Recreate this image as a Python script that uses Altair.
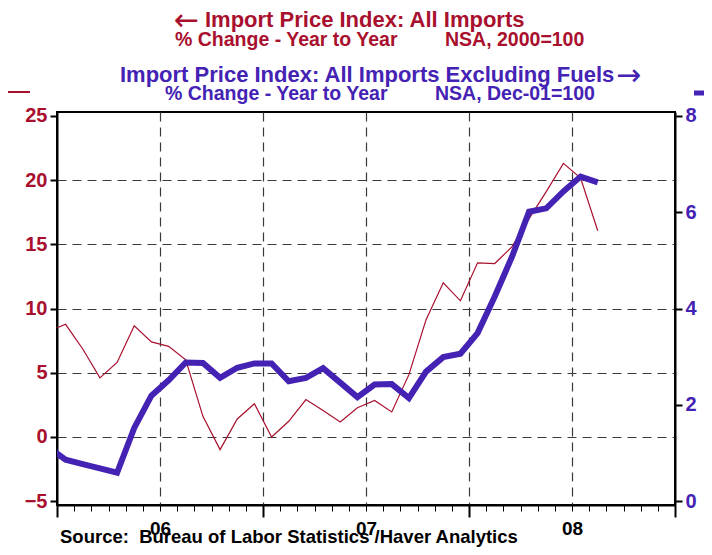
import altair as alt
import pandas as pd

# ---- data ----
months = [
    "2005-12",
    "2006-01", "2006-02", "2006-03", "2006-04", "2006-05", "2006-06",
    "2006-07", "2006-08", "2006-09", "2006-10", "2006-11", "2006-12",
    "2007-01", "2007-02", "2007-03", "2007-04", "2007-05", "2007-06",
    "2007-07", "2007-08", "2007-09", "2007-10", "2007-11", "2007-12",
    "2008-01", "2008-02", "2008-03", "2008-04", "2008-05", "2008-06",
    "2008-07", "2008-08",
]
# Import Price Index: All Imports, % change yoy (left axis)
all_imports = [
    8.2,
    8.77, 6.85, 4.6, 5.8, 8.66, 7.4,
    7.05, 6.0, 1.6, -0.99, 1.4, 2.58,
    0.0, 1.22, 2.91, 2.05, 1.17, 2.27,
    2.84, 1.95, 4.85, 9.13, 12.0, 10.6,
    13.56, 13.5, 14.8, 17.0, 19.1, 21.3,
    20.15, 16.05,
]
# Import Price Index: All Imports Excluding Fuels, % change yoy (right axis)
ex_fuels = [
    1.12,
    0.86, 0.77, 0.68, 0.59, 1.52, 2.19,
    2.51, 2.88, 2.87, 2.56, 2.77, 2.86,
    2.86, 2.49, 2.56, 2.76, 2.46, 2.16,
    2.42, 2.43, 2.14, 2.69, 2.99, 3.06,
    3.49, 4.25, 5.07, 6.01, 6.08, 6.43,
    6.74, 6.62,
]
year_labels = ["06", "07", "08"]
left_ticks = [-5, 0, 5, 10, 15, 20, 25]
right_ticks = [0, 2, 4, 6, 8]

RED = "#A8102E"
BLUE = "#4422B4"
FONT = "Liberation Sans"

start = pd.Period("2006-01", "M")
pos = [(pd.Period(m, "M") - start).n + 0.5 for m in months]
df = pd.DataFrame({"month": months, "t": pos, "all": all_imports, "exf": ex_fuels})

n_months = 12 * len(year_labels)
label_array = "[" + ",".join("'" + s + "'" for s in year_labels) + "]"
grid_test = "datum.value % 6 === 0 && datum.value > 0 && datum.value < " + str(n_months)

x_axis = alt.Axis(
    values=list(range(0, n_months + 1)),
    tickSize={"condition": {"test": "datum.value % 12 === 0", "value": 12}, "value": 6},
    tickWidth={"condition": {"test": "datum.value % 12 === 0", "value": 2}, "value": 1},
    tickColor="black",
    grid=True,
    gridOpacity={"condition": {"test": grid_test, "value": 1}, "value": 0},
    gridDash=[9, 6],
    gridColor="#3a3a3a",
    gridWidth=1.2,
    labelExpr="datum.value % 12 === 6 ? " + label_array + "[floor(datum.value / 12)] : ''",
    labelOverlap=False,
    labelFlush=False,
    labelFont=FONT,
    labelFontSize=19,
    labelFontWeight="bold",
    labelColor="black",
    labelPadding=8,
    domainColor="black",
    domainWidth=2,
    title=None,
)
x_scale = alt.Scale(domain=[0, n_months], nice=False, zero=False)

left_axis = alt.Axis(
    orient="left",
    values=left_ticks,
    tickSize=7,
    tickWidth=2,
    tickColor="black",
    grid=True,
    gridOpacity={"condition": {"test": "datum.value > -5 && datum.value < 25", "value": 1}, "value": 0},
    gridDash=[9, 6],
    gridColor="#3a3a3a",
    gridWidth=1.2,
    labelFont=FONT,
    labelFontSize=20,
    labelFontWeight="bold",
    labelColor=RED,
    labelPadding=3,
    domainColor="black",
    domainWidth=2,
    title=None,
)
right_axis = alt.Axis(
    orient="right",
    values=right_ticks,
    tickSize=7,
    tickWidth=2,
    tickColor="black",
    grid=False,
    labelFont=FONT,
    labelFontSize=20,
    labelFontWeight="bold",
    labelColor=BLUE,
    labelPadding=3,
    domainColor="black",
    domainWidth=2,
    title=None,
)

base = alt.Chart(df)
red_line = base.mark_line(color=RED, strokeWidth=1.2, clip=True).encode(
    x=alt.X("t:Q", scale=x_scale, axis=x_axis),
    y=alt.Y("all:Q", scale=alt.Scale(domain=[-5.3, 25.3], nice=False, zero=False), axis=left_axis),
)
blue_line = base.mark_line(color=BLUE, strokeWidth=6, clip=True).encode(
    x=alt.X("t:Q", scale=x_scale, axis=x_axis),
    y=alt.Y("exf:Q", scale=alt.Scale(domain=[-0.08, 8.08], nice=False, zero=False), axis=right_axis),
)


def label(text, x, y, color, size, align="left", font=FONT, weight="bold", baseline="middle"):
    return alt.Chart(pd.DataFrame({"s": [text]})).mark_text(
        font=font, fontSize=size, fontWeight=weight, color=color, align=align, baseline=baseline
    ).encode(x=alt.value(x), y=alt.value(y), text="s:N")


texts = [
    label("\u2190", 117, -91, RED, 30, "left", "DejaVu Sans", "normal"),
    label("Import Price Index: All Imports", 148, -92, RED, 22),
    label("% Change - Year to Year", 118, -72, RED, 19.5),
    label("NSA, 2000=100", 388, -72, RED, 19.5),
    label("Import Price Index: All Imports Excluding Fuels", 63, -37, BLUE, 22),
    label("\u2192", 559, -36, BLUE, 30, "left", "DejaVu Sans", "normal"),
    label("% Change - Year to Year", 108, -18, BLUE, 19.5),
    label("NSA, Dec-01=100", 378, -18, BLUE, 19.5),
    label("Source:\u00a0 Bureau of Labor Statistics /Haver Analytics", 3, 431, "black", 18.5,
          baseline="alphabetic"),
]

legend_red = alt.Chart(pd.DataFrame({"k": [0]})).mark_rule(color=RED, strokeWidth=2).encode(
    x=alt.value(-49), x2=alt.value(-27), y=alt.value(-20)
)
legend_blue = alt.Chart(pd.DataFrame({"k": [0]})).mark_rule(color=BLUE, strokeWidth=5).encode(
    x=alt.value(637), x2=alt.value(660), y=alt.value(-19)
)

chart = (
    alt.layer(red_line, blue_line, legend_red, legend_blue, *texts)
    .resolve_scale(y="independent")
    .properties(
        width=618,
        height=393,
        autosize=alt.AutoSizeParams(type="none"),
        padding={"left": 49, "top": 104, "right": 29, "bottom": 42},
        background="white",
    )
    .configure_view(stroke="black", strokeWidth=2)
)

chart.save("out.html", embed_options={"renderer": "svg", "actions": False})
